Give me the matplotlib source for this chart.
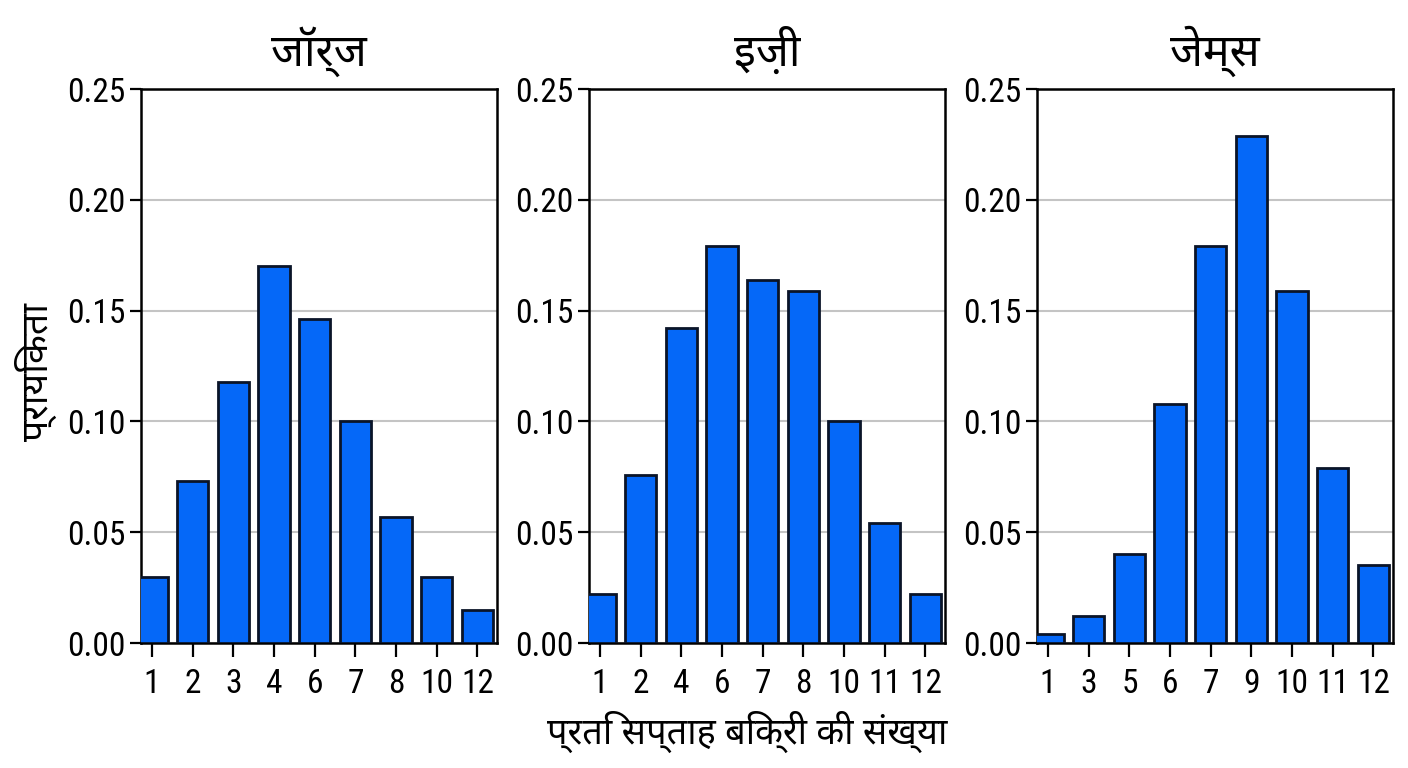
import matplotlib
matplotlib.use("Agg")
import matplotlib.pyplot as plt

# Data
names = ["जॉर्ज", "इज़ी", "जेम्स"]
george_sales = ["1", "2", "3", "4", "6", "7", "8", "10", "12"]
george_prob = [0.030, 0.073, 0.118, 0.170, 0.146, 0.100, 0.057, 0.030, 0.015]
izzy_sales = ["1", "2", "4", "6", "7", "8", "10", "11", "12"]
izzy_prob = [0.022, 0.076, 0.142, 0.179, 0.164, 0.159, 0.100, 0.054, 0.022]
james_sales = ["1", "3", "5", "6", "7", "9", "10", "11", "12"]
james_prob = [0.004, 0.012, 0.040, 0.108, 0.179, 0.229, 0.159, 0.079, 0.035]
y_ticks = [0.00, 0.05, 0.10, 0.15, 0.20, 0.25]

xlabel = "प्रति सप्ताह बिक्री की संख्या"
ylabel = "प्रायिकता"

DEVA = ["Noto Sans Devanagari", "Roboto Condensed", "DejaVu Sans"]
NUM = ["Roboto Condensed", "DejaVu Sans"]
BAR = "#0568f8"
EDGE = "#0a1428"

fig = plt.figure(figsize=(14.08, 7.68), dpi=100)

lefts = [141, 589, 1037]
panels = [(george_sales, george_prob), (izzy_sales, izzy_prob), (james_sales, james_prob)]

for left, name, (cats, vals) in zip(lefts, names, panels):
    ax = fig.add_axes([left / 1408, (768 - 643) / 768, 356 / 1408, 554 / 768])
    pos = list(range(len(cats)))
    ax.bar(pos, vals, width=0.77, color=BAR, edgecolor=EDGE, linewidth=2.0, zorder=3)
    ax.set_xlim(-0.27, len(cats) - 1 + 0.48)
    ax.set_ylim(0, 0.25)
    ax.set_xticks(pos)
    ax.set_xticklabels(cats, family=NUM, fontsize=24)
    ax.set_yticks(y_ticks)
    ax.set_yticklabels([f"{t:.2f}" for t in y_ticks], family=NUM, fontsize=24)
    ax.yaxis.grid(True, color="#c4c4c4", linewidth=1.5, zorder=0)
    ax.tick_params(axis="y", length=8, width=1.6, pad=3, colors="black")
    ax.tick_params(axis="x", length=10, width=1.6, pad=8, colors="black")
    for sp in ax.spines.values():
        sp.set_linewidth(1.8)
        sp.set_color("black")
    ax.set_title(name, family=DEVA, fontsize=32, fontweight="semibold", pad=17)

fig.text(36 / 1408, 1 - 372 / 768, ylabel, family=DEVA, fontsize=27,
         fontweight="medium", rotation=90, ha="center", va="center")
fig.text(747 / 1408, 1 - 732 / 768, xlabel, family=DEVA, fontsize=26,
         fontweight="medium", ha="center", va="center")

fig.savefig("out.png", dpi=100, facecolor="white")
